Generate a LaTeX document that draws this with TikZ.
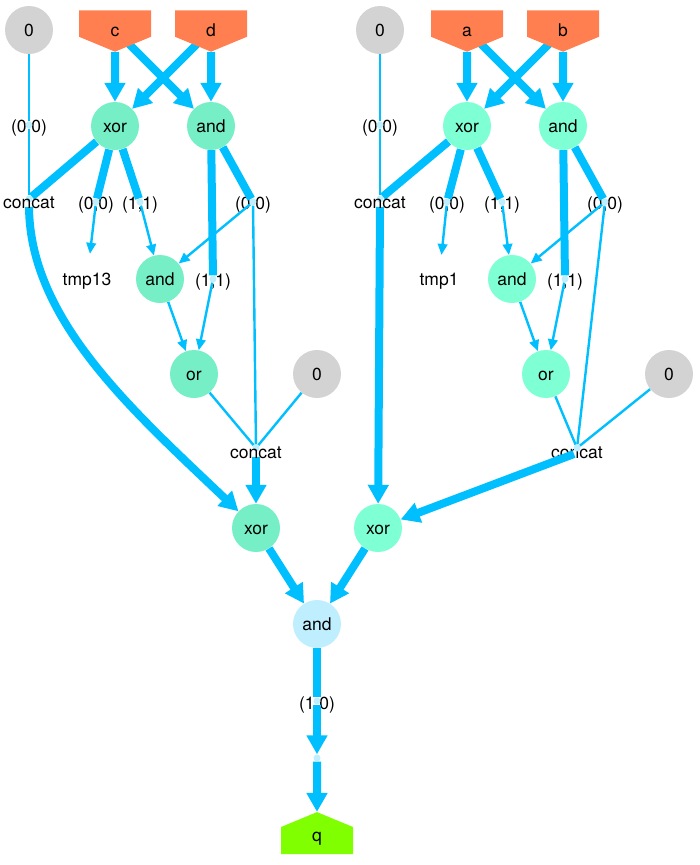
\documentclass[tikz,border=0pt]{standalone}
\usepackage{fontspec}
\setmainfont{TeX Gyre Heros}
\usetikzlibrary{arrows.meta,shapes.symbols}
\definecolor{wire}{HTML}{00BFFF}
\definecolor{junction}{HTML}{BFEFFF}
\definecolor{opleft}{HTML}{76EEC6}
\definecolor{opright}{HTML}{7FFFD4}
\definecolor{zero}{HTML}{D3D3D3}
\definecolor{inport}{HTML}{FF7F50}
\definecolor{outport}{HTML}{7FFF00}
\pgfdeclarelayer{labels}
\pgfdeclarelayer{wires}
\pgfsetlayers{labels,wires,main}
\tikzset{
  every node/.style={font=\fontsize{17.5}{20}\selectfont,text height=13pt,text depth=0pt,inner sep=0pt},
  gate/.style={circle,minimum size=48pt},
  dot/.style={circle,fill=junction,minimum size=7pt,font=\tiny,text height=0pt},
  input/.style={signal,signal to=south,signal from=nowhere,signal pointer angle=135,
    fill=inport,minimum width=72pt,minimum height=27pt,text height=26.5pt},
  output/.style={signal,signal to=north,signal from=nowhere,signal pointer angle=135,
    fill=outport,minimum width=72pt,minimum height=29pt,text height=8pt,text depth=5.6pt},
  thin wire/.style={wire,line width=2.4pt},
  thin arrow/.style={thin wire,-{Triangle[width=9.5pt,length=11pt]}},
  fat wire/.style={wire,line width=8pt},
  fat arrow/.style={fat wire,-{Triangle[width=20pt,length=19pt]}}
}
\begin{document}
\begin{tikzpicture}[x=1pt,y=-1pt]
  \useasboundingbox (0,0) rectangle (699,865);
  % left half
  \node[gate,fill=zero] (zl1) at (29,30) {0};
  \node[input] (c) at (115,23.5) {c};
  \node[input] (d) at (211,23.5) {d};
  \node[gate,fill=opleft] (xl1) at (115,126) {xor};
  \node[gate,fill=opleft] (al1) at (211,126) {and};
  \node[gate] (tl) at (87,279) {tmp13};
  \node[gate,fill=opleft] (al2) at (160,279) {and};
  \node[gate,fill=opleft] (ol) at (194,374) {or};
  \node[gate,fill=zero] (zl2) at (317,374) {0};
  \node[gate,fill=opleft] (xl2) at (256,528) {xor};
  % right half
  \node[gate,fill=zero] (zr1) at (380,30) {0};
  \node[input] (a) at (467,23.5) {a};
  \node[input] (b) at (563,23.5) {b};
  \node[gate,fill=opright] (xr1) at (467,126) {xor};
  \node[gate,fill=opright] (ar1) at (563,126) {and};
  \node[gate] (tr) at (439,279) {tmp1};
  \node[gate,fill=opright] (ar2) at (512,279) {and};
  \node[gate,fill=opright] (or) at (546,374) {or};
  \node[gate,fill=zero] (zr2) at (669,374) {0};
  \node[gate,fill=opright] (xr2) at (378,528) {xor};
  % bottom
  \node[gate,fill=junction] (am) at (317,624) {and};
  \node[output] (q) at (317,840.5) {q};
  % junctions
  \node[dot] (jl1) at (29,125) {};
  \node[dot] (cl1) at (29,199) {};
  \node[dot] (jl2) at (96,202) {};
  \node[dot] (jl3) at (140,202) {};
  \node[dot] (jl4) at (253,202) {};
  \node[dot] (jl5) at (213,279) {};
  \node[dot] (cl2) at (256,448) {};
  \node[dot] (jr1) at (380,125) {};
  \node[dot] (cr1) at (380,199) {};
  \node[dot] (jr2) at (447,202) {};
  \node[dot] (jr3) at (502,202) {};
  \node[dot] (jr4) at (605,202) {};
  \node[dot] (jr5) at (565,279) {};
  \node[dot] (cr2) at (577,448) {};
  \node[dot] (jm) at (317,701) {};
  \node[dot] (pm) at (317,758) {};
  % concat labels sit over their junctions
  \node (tcl1) at (29,202) {concat};
  \node (tcl2) at (256,452) {concat};
  \node (tcr1) at (380,202) {concat};
  \begin{pgfonlayer}{labels}
    \node (tjl1) at (29,126) {(0,0)};
    \node (tjl2) at (96,203) {(0,0)};
    \node (tjl3) at (140,203) {(1,1)};
    \node (tjl4) at (253,203) {(0,0)};
    \node (tjl5) at (213,280) {(1,1)};
    \node (tjr1) at (380,126) {(0,0)};
    \node (tjr2) at (447,203) {(0,0)};
    \node (tjr3) at (502,203) {(1,1)};
    \node (tjr4) at (605,203) {(0,0)};
    \node (tjr5) at (565,280) {(1,1)};
    \node (tjm) at (317,703) {(1,0)};
    \node (tcr2) at (577,452) {concat};
  \end{pgfonlayer}
  \begin{pgfonlayer}{wires}
    \draw[thin wire] (zl1) -- (jl1);
    \draw[thin wire] (jl1) -- (cl1);
    \draw[fat arrow] (c) -- (xl1);
    \draw[fat arrow] ([yshift=-6.5pt]c.center) -- (al1);
    \draw[fat arrow] ([yshift=-6.5pt]d.center) -- (xl1);
    \draw[fat arrow] (d) -- (al1);
    \draw[fat wire] (xl1) -- (cl1);
    \draw[fat wire] (xl1) -- (jl2);
    \draw[fat wire] (xl1) -- (jl3);
    \draw[fat wire] (al1) -- (jl4);
    \draw[fat wire] (al1) -- (jl5);
    \draw[thin arrow] (jl2) -- (tl);
    \draw[thin arrow] (jl3) -- (al2);
    \draw[thin arrow] (jl4) -- (al2);
    \draw[thin arrow] (jl5) -- (ol);
    \draw[thin arrow] (al2) -- (ol);
    \draw[thin wire] (jl4) -- (cl2);
    \draw[thin wire] (ol) -- (cl2);
    \draw[thin wire] (zl2) -- (cl2);
    \draw[fat arrow] ([yshift=-8.5pt]cl2.center) -- (xl2);
    \draw[fat arrow] ([yshift=-8pt]cl1.center) .. controls (30,320) and (132,410) .. (xl2);
    \draw[thin wire] (zr1) -- (jr1);
    \draw[thin wire] (jr1) -- (cr1);
    \draw[fat arrow] (a) -- (xr1);
    \draw[fat arrow] ([yshift=-6.5pt]a.center) -- (ar1);
    \draw[fat arrow] ([yshift=-6.5pt]b.center) -- (xr1);
    \draw[fat arrow] (b) -- (ar1);
    \draw[fat wire] (xr1) -- (cr1);
    \draw[fat wire] (xr1) -- (jr2);
    \draw[fat wire] (xr1) -- (jr3);
    \draw[fat wire] (ar1) -- (jr4);
    \draw[fat wire] (ar1) -- (jr5);
    \draw[thin arrow] (jr2) -- (tr);
    \draw[thin arrow] (jr3) -- (ar2);
    \draw[thin arrow] (jr4) -- (ar2);
    \draw[thin arrow] (jr5) -- (or);
    \draw[thin arrow] (ar2) -- (or);
    \draw[thin wire] (jr4) -- (cr2);
    \draw[thin wire] (or) -- (cr2);
    \draw[thin wire] (zr2) -- (cr2);
    \draw[fat arrow] ([yshift=-8pt]cr1.center) -- (xr2);
    \draw[fat arrow] ([shift={(-3pt,-6pt)}]cr2.center) -- (xr2);
    \draw[fat arrow] (xl2) -- (am);
    \draw[fat arrow] (xr2) -- (am);
    \draw[fat wire] (am) -- (jm);
    \draw[fat arrow] (jm) -- (pm);
    \draw[fat arrow] (pm) -- (q);
  \end{pgfonlayer}
\end{tikzpicture}
\end{document}
